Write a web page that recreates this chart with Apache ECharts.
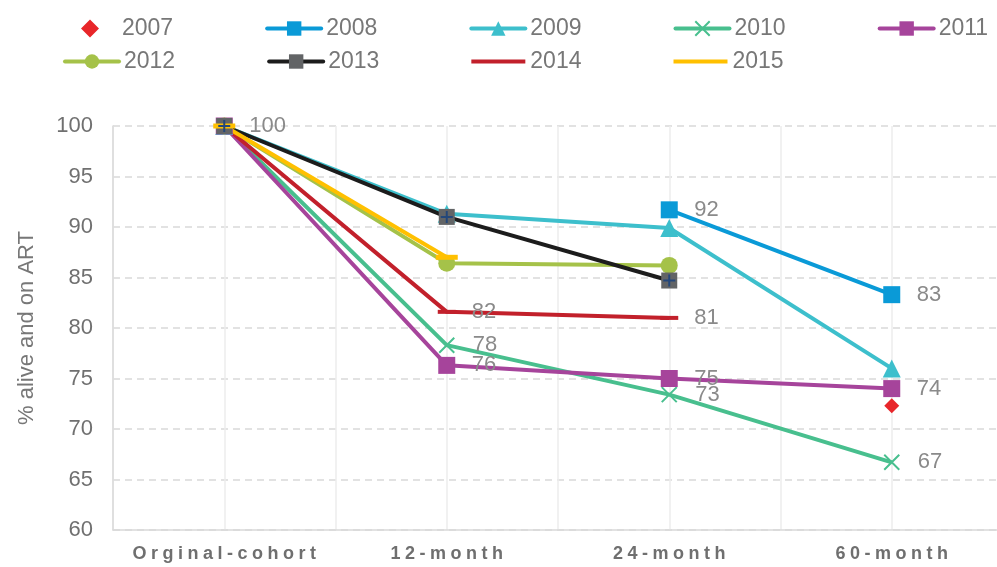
<!DOCTYPE html>
<html>
<head>
<meta charset="utf-8">
<script src="https://cdn.jsdelivr.net/npm/echarts@6.0.0/dist/echarts.min.js"></script>
<style>
  html, body { margin: 0; padding: 0; background: #fff; }
  #main { width: 997px; height: 567px; }
</style>
</head>
<body>
<div id="main"></div>
<script>
// x categories and y axis range
const categories = ['Orginal-cohort', '12-month', '24-month', '60-month'];
const yMin = 60, yMax = 100, yStep = 5;

// % alive and on ART, per cohort year (null = not observed)
const y2007 = [null, null, null, 72.3];
const y2008 = [null, null, 91.7, 83.3];
const y2009 = [100, 91.3, 89.9, 76.0];
const y2010 = [100, 78.3, 73.4, 66.7];
const y2011 = [100, 76.3, 75.0, 74.0];
const y2012 = [100, 86.4, 86.2, null];
const y2013 = [100, 91.0, 84.7, null];
const y2014 = [100, 81.6, 81.0, null];
const y2015 = [100, 87.0, null, null];

// which points carry a value label
const labels2008 = [2, 3];
const labels2010 = [1, 2, 3];
const labels2011 = [1, 2, 3];
const labels2013 = [0];
const labels2014 = [1, 2];

const FONT = 'Liberation Sans, Arial, sans-serif';
const xShape = 'path://M0,0L10,10M10,0L0,10';
const plusShape = 'path://M5,0L5,10M0,5L10,5';
const dashIcon = 'path://M0,0H54V4H0Z';
// diamond centred in a 54-wide box (the two tiny end segments only widen the bbox)
const diamondIcon = 'path://M0,9L0.01,9M54,9L53.99,9M27,0L36,9L27,18L18,9Z';

const spaced = s => s.split('').join('\u2005');

function makeSeries(name, vals, color, symbol, size, labelIdx, opts) {
  opts = opts || {};
  const w = Array.isArray(size) ? size[0] : size;
  const data = [];
  vals.forEach((v, i) => {
    if (v == null) return;
    const item = { value: [i, v] };
    if (labelIdx && labelIdx.indexOf(i) >= 0) item.label = { show: true };
    data.push(item);
  });
  return {
    name: name,
    type: 'line',
    data: data,
    symbol: symbol,
    symbolSize: size,
    showAllSymbol: true,
    lineStyle: { color: opts.lineColor || color, width: 4, opacity: opts.noLine ? 0 : 1 },
    itemStyle: Object.assign({ color: color }, opts.item || {}),
    label: {
      show: false,
      position: 'right',
      distance: 25 - w / 2,
      color: '#8a8a8a',
      fontSize: 22,
      fontFamily: FONT,
      formatter: p => Math.round(p.value[1])
    },
    emphasis: { disabled: true },
    z: opts.z || 2
  };
}

const series = [
  makeSeries('2007', y2007, '#e8262a', 'diamond', 15, null),
  makeSeries('2008', y2008, '#0a9ad7', 'rect', 17, labels2008),
  makeSeries('2009', y2009, '#3dbfcc', 'triangle', 18, null),
  makeSeries('2010', y2010, '#48bf8e', xShape, 15, labels2010,
    { item: { borderColor: '#48bf8e', borderWidth: 2 } }),
  makeSeries('2011', y2011, '#a6449b', 'rect', 17, labels2011),
  makeSeries('2012', y2012, '#a5c249', 'circle', 17, null),
  makeSeries('2013', y2013, '#626466', 'rect', 16, labels2013, { lineColor: '#1c1c1c' }),
  makeSeries('2013 marker', y2013, 'rgba(0,0,0,0)', plusShape, 12, null,
    { noLine: true, item: { borderColor: '#24477a', borderWidth: 2 }, z: 3 }),
  makeSeries('2014', y2014, '#c2202b', 'rect', [18, 4], labels2014),
  makeSeries('2015', y2015, '#ffc000', 'rect', [22, 5], null)
];

const legendBase = {
  left: 63,
  padding: 0,
  itemWidth: 54,
  itemHeight: 18,
  itemGap: 92,
  symbolKeepAspect: true,
  lineStyle: { width: 4, cap: 'round' },
  textStyle: { fontSize: 23, color: '#777', fontFamily: FONT },
  selectedMode: false
};

const option = {
  animation: false,
  backgroundColor: '#fff',
  textStyle: { fontFamily: FONT },
  legend: [
    Object.assign({}, legendBase, {
      top: 17,
      data: [{ name: '2007', icon: diamondIcon }, '2008', '2009', '2010', '2011']
    }),
    Object.assign({}, legendBase, {
      top: 50,
      data: ['2012', '2013', { name: '2014', icon: dashIcon }, { name: '2015', icon: dashIcon }]
    })
  ],
  grid: { left: 113, right: -6, top: 126, bottom: 37, outerBoundsMode: 'none' },
  xAxis: {
    type: 'value',
    min: -0.5,
    max: categories.length - 0.5,
    interval: 0.5,
    axisLine: { show: true, onZero: false, lineStyle: { color: '#d9d9d9', width: 1.5 } },
    axisTick: { show: false },
    axisLabel: {
      margin: 15,
      fontSize: 18,
      fontWeight: 'bold',
      color: '#6f6f6f',
      fontFamily: FONT,
      formatter: v => {
        const r = Math.round(v);
        if (Math.abs(v - r) > 1e-6 || r < 0 || r >= categories.length) return '';
        return spaced(categories[r]);
      }
    },
    splitLine: { show: true, lineStyle: { color: '#ececec', width: 1.5, type: 'solid' } }
  },
  yAxis: {
    type: 'value',
    min: yMin,
    max: yMax,
    interval: yStep,
    name: '% alive and on ART',
    nameLocation: 'middle',
    nameGap: 75,
    nameTextStyle: { fontSize: 22, color: '#777', fontFamily: FONT },
    axisLine: { show: true, onZero: false, lineStyle: { color: '#d9d9d9', width: 1.5 } },
    axisTick: { show: false },
    axisLabel: { margin: 20, fontSize: 22, color: '#707070', fontFamily: FONT },
    splitLine: { show: true, lineStyle: { color: '#d9d9d9', width: 1.5, type: [7, 5] } }
  },
  series: series
};

const chart = echarts.init(document.getElementById('main'), null, { renderer: 'canvas' });
chart.setOption(option);
</script>
</body>
</html>
